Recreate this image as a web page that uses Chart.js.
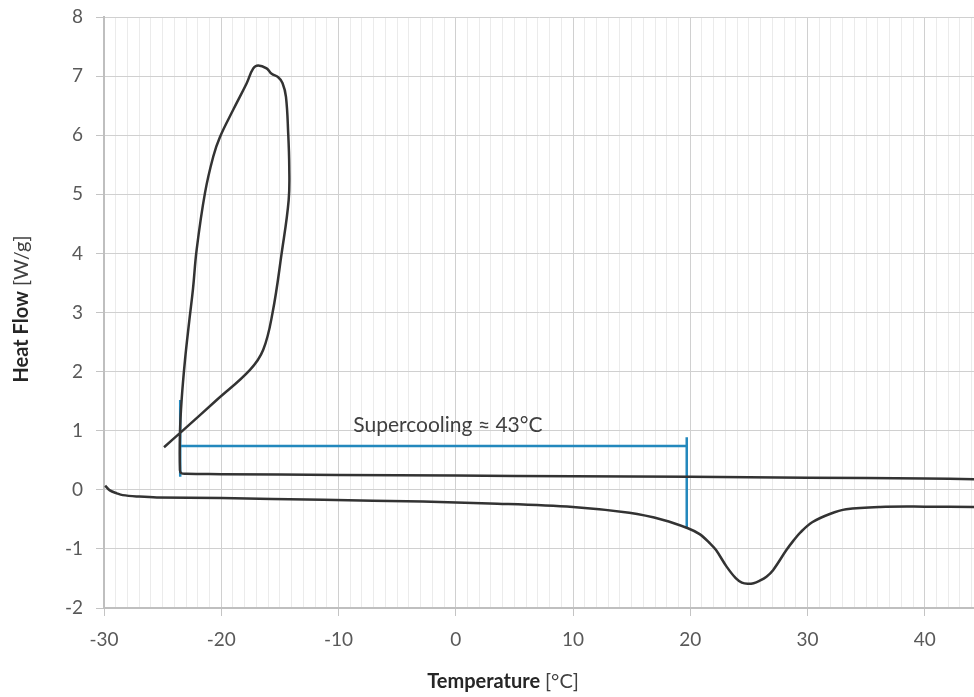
<!DOCTYPE html>
<html>
<head>
<meta charset="utf-8">
<title>DSC – Heat Flow vs Temperature</title>
<script src="https://cdn.jsdelivr.net/npm/chart.js@4.4.1/dist/chart.umd.min.js"></script>
<style>
  html, body { margin: 0; padding: 0; background: #ffffff; }
  #wrap { width: 974px; height: 697px; position: relative; }
</style>
</head>
<body>
<div id="wrap"><canvas id="dsc"></canvas></div>
<script>
// Cooling run, in time order: baseline from the warm side, onset of freezing,
// recalescence loop and the return towards lower temperature.
const coolingTemp = [44.2, 40, 30, 20, 10, 0, -10, -20, -23.0, -23.4, -23.52, -23.52, -23.38, -23.09, -22.72, -22.41, -22.1, -21.39, -20.68, -20.11, -18.98, -17.83, -17.27, -16.85, -16.13, -15.7, -15.14, -14.77, -14.48, -14.29, -14.2, -14.25, -14.85, -15.62, -16.42, -17.55, -20.39, -23.24, -24.88];
const coolingFlow = [0.18, 0.19, 0.205, 0.22, 0.23, 0.24, 0.25, 0.265, 0.27, 0.28, 0.33, 0.96, 1.52, 2.2, 2.87, 3.4, 4.06, 5.02, 5.64, 5.97, 6.43, 6.88, 7.13, 7.18, 7.13, 7.04, 6.98, 6.88, 6.65, 6.03, 5.47, 4.9, 4.0, 3.0, 2.37, 2.03, 1.52, 1.01, 0.72];

// Heating run with the melting endotherm.
const heatingTemp = [-29.9, -29.5, -28.9, -28.4, -27, -25.5, -20, -11.3, -2.8, 2.9, 10, 14.8, 17.7, 19.8, 20.8, 21.7, 22.2, 23.1, 23.9, 24.4, 24.9, 25.4, 25.9, 26.5, 27.06, 28.2, 28.8, 29.4, 30.4, 31.9, 33.3, 36.2, 40, 44.2];
const heatingFlow = [0.07, -0.01, -0.06, -0.09, -0.115, -0.13, -0.14, -0.17, -0.2, -0.23, -0.29, -0.39, -0.51, -0.65, -0.75, -0.91, -1.02, -1.3, -1.5, -1.57, -1.59, -1.58, -1.54, -1.47, -1.36, -1.02, -0.86, -0.72, -0.55, -0.41, -0.33, -0.29, -0.285, -0.29];

// Supercooling bracket: freezing onset and melting onset.
const freezeOnset = -23.5;
const meltOnset = 19.7;
const bracketLevel = 0.74;
const freezeSpan = [1.52, 0.22];
const meltSpan = [0.89, -0.65];
const supercoolingLabel = 'Supercooling \u2248 43\u00B0C';
const labelAt = [-0.67, 1.1];

// Axes
const xRange = [-30, 44.2];
const xMajorTicks = [-30, -20, -10, 0, 10, 20, 30, 40];
const yRange = [-2, 8];
const yTicks = [-2, -1, 0, 1, 2, 3, 4, 5, 6, 7, 8];

const FONT = 'Lato, "Open Sans", sans-serif';
const toPoints = (xs, ys) => xs.map((x, i) => ({ x: x, y: ys[i] }));
const isMajor = v => xMajorTicks.indexOf(v) !== -1;

const bracketColor = '#2388bd';
const curveColor = '#333333';

const bracket = [
  { x: freezeOnset, y: freezeSpan[0] }, { x: freezeOnset, y: freezeSpan[1] },
  { x: freezeOnset, y: bracketLevel }, { x: meltOnset, y: bracketLevel },
  { x: meltOnset, y: meltSpan[0] }, { x: meltOnset, y: meltSpan[1] }
];

// Text drawn on top of the plot: annotation and mixed-weight axis titles
function drawMixed(ctx, parts, cx, cy, angle) {
  ctx.save();
  ctx.translate(cx, cy);
  ctx.rotate(angle);
  ctx.textBaseline = 'middle';
  ctx.textAlign = 'left';
  let total = 0;
  parts.forEach(p => { ctx.font = p.font; p.w = ctx.measureText(p.text).width; total += p.w; });
  let x = -total / 2;
  parts.forEach(p => { ctx.font = p.font; ctx.fillStyle = p.color; ctx.fillText(p.text, x, 0); x += p.w; });
  ctx.restore();
}

const textPlugin = {
  id: 'textPlugin',
  afterDatasetsDraw(chart) {
    const ctx = chart.ctx;
    const xs = chart.scales.x, ys = chart.scales.y;
    ctx.save();
    ctx.font = '21px ' + FONT;
    ctx.fillStyle = '#404040';
    ctx.textAlign = 'center';
    ctx.textBaseline = 'middle';
    ctx.fillText(supercoolingLabel, xs.getPixelForValue(labelAt[0]), ys.getPixelForValue(labelAt[1]));
    ctx.restore();

    drawMixed(ctx, [
      { text: 'Heat Flow ', font: 'bold 20px ' + FONT, color: '#262626' },
      { text: '[W/g]', font: '20px ' + FONT, color: '#404040' }
    ], 22, 309, -Math.PI / 2);
    drawMixed(ctx, [
      { text: 'Temperature ', font: 'bold 20px ' + FONT, color: '#262626' },
      { text: '[\u00B0C]', font: '20px ' + FONT, color: '#404040' }
    ], 503, 682, 0);
  }
};

new Chart(document.getElementById('dsc'), {
  type: 'scatter',
  data: {
    datasets: [
      { data: toPoints(heatingTemp, heatingFlow), showLine: true, borderColor: curveColor, borderWidth: 2.5, pointRadius: 0, tension: 0.35, fill: false },
      { data: toPoints(coolingTemp, coolingFlow), showLine: true, borderColor: curveColor, borderWidth: 2.5, pointRadius: 0, tension: 0.4, fill: false },
      { data: bracket, showLine: true, borderColor: bracketColor, borderWidth: 2.5, pointRadius: 0, tension: 0, fill: false }
    ]
  },
  options: {
    responsive: true,
    maintainAspectRatio: false,
    animation: false,
    layout: { padding: { top: 17, right: 0, bottom: 0, left: 0 } },
    plugins: { legend: { display: false }, tooltip: { enabled: false } },
    scales: {
      x: {
        type: 'linear',
        min: xRange[0],
        max: xRange[1],
        afterBuildTicks: scale => {
          const t = [];
          for (let v = Math.ceil(xRange[0]); v <= Math.floor(xRange[1]); v++) t.push({ value: v });
          scale.ticks = t;
        },
        afterFit: scale => {
          scale.height = 89;
          scale.paddingLeft = 0; scale.paddingRight = 0;
          scale.paddingTop = 0; scale.paddingBottom = 0;
        },
        ticks: {
          autoSkip: false,
          maxRotation: 0,
          minRotation: 0,
          padding: 12,
          color: '#595959',
          font: { family: FONT, size: 19 },
          callback: v => (isMajor(v) ? String(v) : '')
        },
        grid: {
          color: c => (c.tick && isMajor(c.tick.value) ? '#d0d0d0' : '#ebebeb'),
          tickColor: c => (c.tick && isMajor(c.tick.value) ? '#c4c4c4' : 'rgba(0,0,0,0)'),
          tickLength: 8,
          lineWidth: 1
        },
        border: { color: '#bfbfbf', width: 2 }
      },
      y: {
        type: 'linear',
        min: yRange[0],
        max: yRange[1],
        afterBuildTicks: scale => { scale.ticks = yTicks.map(v => ({ value: v })); },
        afterFit: scale => {
          scale.width = 104;
          scale.paddingLeft = 0; scale.paddingRight = 0;
          scale.paddingTop = 0; scale.paddingBottom = 0;
        },
        ticks: {
          padding: 13,
          color: '#595959',
          font: { family: FONT, size: 19 }
        },
        grid: { color: '#d0d0d0', tickColor: '#c4c4c4', tickLength: 8, lineWidth: 1 },
        border: { color: '#bfbfbf', width: 2 }
      }
    }
  },
  plugins: [textPlugin]
});
</script>
</body>
</html>
